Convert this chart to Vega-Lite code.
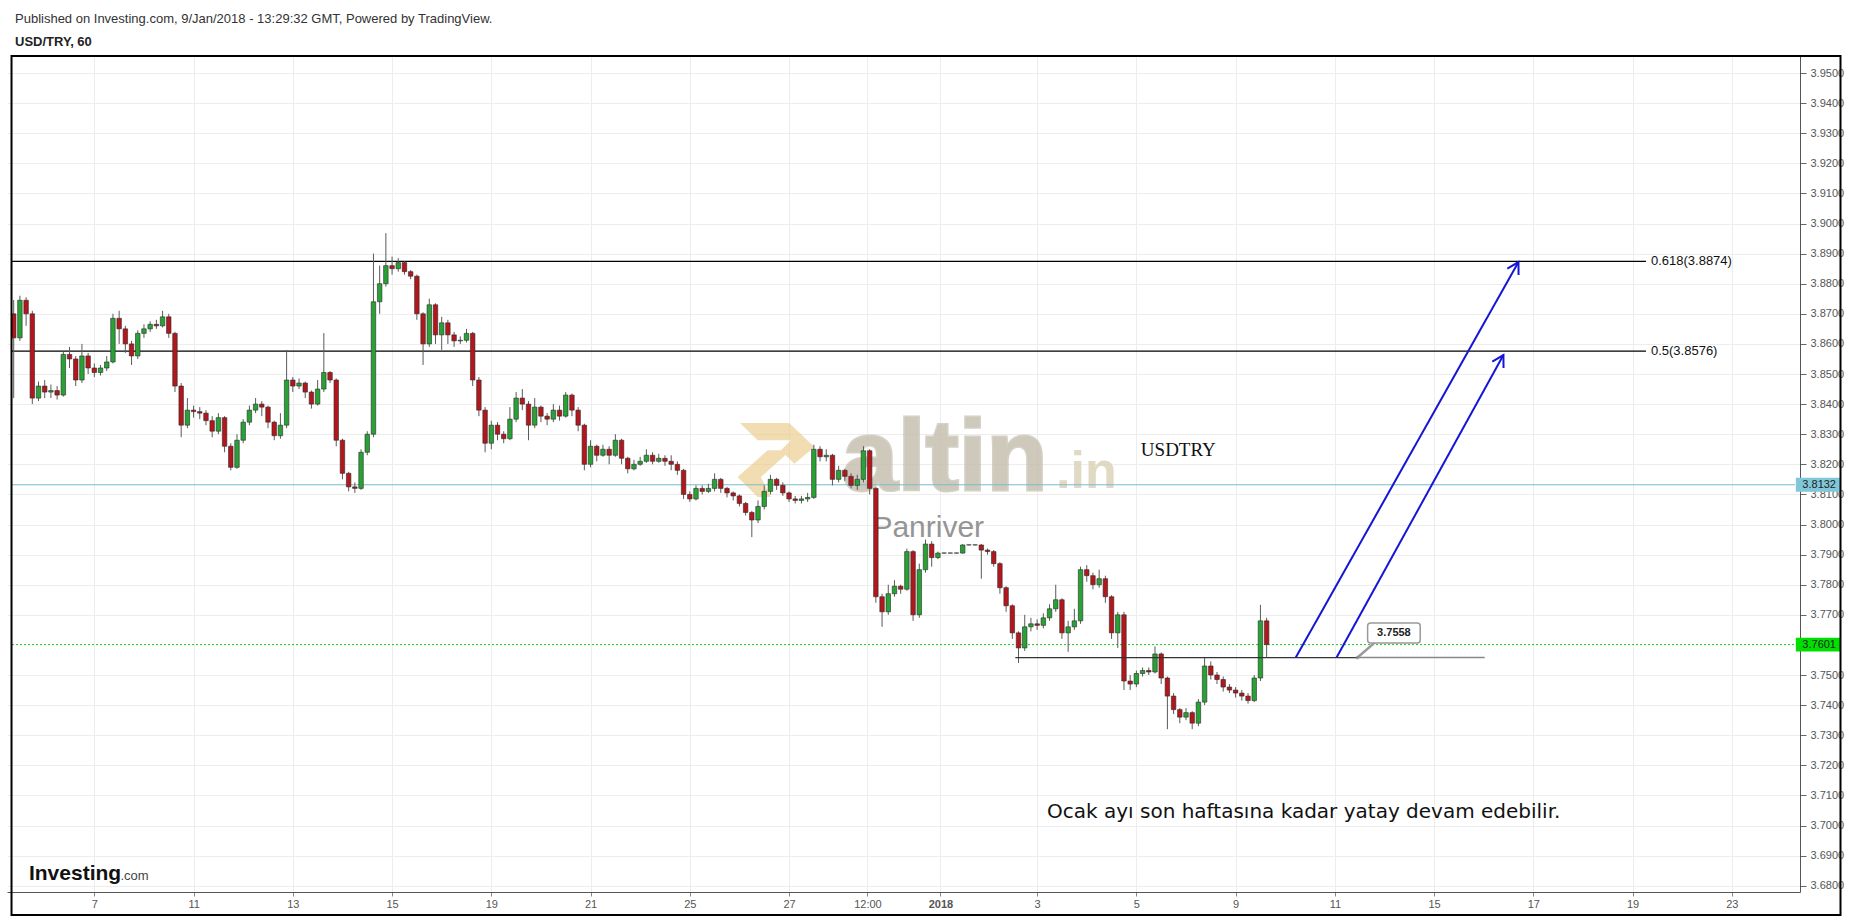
{
"$schema": "https://vega.github.io/schema/vega-lite/v6.json",
"width": 1793, "height": 836,
"autosize": {"type": "none"},
"padding": {"left": 7, "top": 56, "right": 53, "bottom": 26},
"background": "white",
"config": {"view": {"stroke": null}, "font": "Liberation Sans"},
"title": {"text": "Published on Investing.com, 9/Jan/2018 - 13:29:32 GMT, Powered by TradingView.", "subtitle": "USD/TRY, 60", "anchor": "start", "frame": "group", "dx": 8, "offset": 6, "font": "Liberation Sans", "fontSize": 13, "fontWeight": "normal", "color": "#333333", "subtitleFont": "Liberation Sans", "subtitleFontSize": 13, "subtitleFontWeight": "bold", "subtitleColor": "#222222", "subtitlePadding": 10},
"data": {"values": [
{"t":-1.625,"o":3.8700,"h":3.8746,"l":3.8420,"c":3.8620},
{"t":-1.5,"o":3.8620,"h":3.8760,"l":3.8610,"c":3.8745},
{"t":-1.375,"o":3.8745,"h":3.8755,"l":3.8660,"c":3.8700},
{"t":-1.25,"o":3.8700,"h":3.8710,"l":3.8400,"c":3.8420},
{"t":-1.125,"o":3.8420,"h":3.8475,"l":3.8410,"c":3.8460},
{"t":-1.0,"o":3.8460,"h":3.8480,"l":3.8420,"c":3.8440},
{"t":-0.875,"o":3.8440,"h":3.8465,"l":3.8420,"c":3.8445},
{"t":-0.75,"o":3.8445,"h":3.8460,"l":3.8415,"c":3.8430},
{"t":-0.625,"o":3.8430,"h":3.8575,"l":3.8425,"c":3.8565},
{"t":-0.5,"o":3.8565,"h":3.8590,"l":3.8520,"c":3.8550},
{"t":-0.375,"o":3.8550,"h":3.8560,"l":3.8460,"c":3.8480},
{"t":-0.25,"o":3.8480,"h":3.8600,"l":3.8470,"c":3.8560},
{"t":-0.125,"o":3.8560,"h":3.8570,"l":3.8500,"c":3.8520},
{"t":0.0,"o":3.8520,"h":3.8535,"l":3.8490,"c":3.8505},
{"t":0.125,"o":3.8505,"h":3.8530,"l":3.8495,"c":3.8520},
{"t":0.25,"o":3.8520,"h":3.8560,"l":3.8510,"c":3.8540},
{"t":0.375,"o":3.8540,"h":3.8700,"l":3.8535,"c":3.8685},
{"t":0.5,"o":3.8685,"h":3.8710,"l":3.8600,"c":3.8650},
{"t":0.625,"o":3.8650,"h":3.8660,"l":3.8570,"c":3.8600},
{"t":0.75,"o":3.8600,"h":3.8610,"l":3.8530,"c":3.8560},
{"t":0.875,"o":3.8560,"h":3.8645,"l":3.8550,"c":3.8635},
{"t":1.0,"o":3.8635,"h":3.8665,"l":3.8620,"c":3.8650},
{"t":1.125,"o":3.8650,"h":3.8675,"l":3.8640,"c":3.8665},
{"t":1.25,"o":3.8665,"h":3.8680,"l":3.8650,"c":3.8660},
{"t":1.375,"o":3.8660,"h":3.8710,"l":3.8655,"c":3.8690},
{"t":1.5,"o":3.8690,"h":3.8700,"l":3.8620,"c":3.8635},
{"t":1.625,"o":3.8635,"h":3.8640,"l":3.8440,"c":3.8460},
{"t":1.75,"o":3.8460,"h":3.8470,"l":3.8290,"c":3.8330},
{"t":1.875,"o":3.8330,"h":3.8420,"l":3.8320,"c":3.8380},
{"t":2.0,"o":3.8380,"h":3.8395,"l":3.8355,"c":3.8375},
{"t":2.125,"o":3.8375,"h":3.8390,"l":3.8350,"c":3.8370},
{"t":2.25,"o":3.8370,"h":3.8380,"l":3.8330,"c":3.8345},
{"t":2.375,"o":3.8345,"h":3.8360,"l":3.8290,"c":3.8310},
{"t":2.5,"o":3.8310,"h":3.8370,"l":3.8300,"c":3.8355},
{"t":2.625,"o":3.8355,"h":3.8360,"l":3.8240,"c":3.8260},
{"t":2.75,"o":3.8260,"h":3.8270,"l":3.8180,"c":3.8190},
{"t":2.875,"o":3.8190,"h":3.8300,"l":3.8185,"c":3.8280},
{"t":3.0,"o":3.8280,"h":3.8350,"l":3.8270,"c":3.8340},
{"t":3.125,"o":3.8340,"h":3.8395,"l":3.8330,"c":3.8380},
{"t":3.25,"o":3.8380,"h":3.8420,"l":3.8370,"c":3.8400},
{"t":3.375,"o":3.8400,"h":3.8410,"l":3.8360,"c":3.8390},
{"t":3.5,"o":3.8390,"h":3.8395,"l":3.8320,"c":3.8340},
{"t":3.625,"o":3.8340,"h":3.8345,"l":3.8280,"c":3.8295},
{"t":3.75,"o":3.8295,"h":3.8370,"l":3.8285,"c":3.8330},
{"t":3.875,"o":3.8330,"h":3.8580,"l":3.8320,"c":3.8480},
{"t":4.0,"o":3.8480,"h":3.8490,"l":3.8440,"c":3.8460},
{"t":4.125,"o":3.8460,"h":3.8485,"l":3.8450,"c":3.8470},
{"t":4.25,"o":3.8470,"h":3.8475,"l":3.8420,"c":3.8440},
{"t":4.375,"o":3.8440,"h":3.8445,"l":3.8385,"c":3.8400},
{"t":4.5,"o":3.8400,"h":3.8480,"l":3.8395,"c":3.8450},
{"t":4.625,"o":3.8450,"h":3.8636,"l":3.8440,"c":3.8505},
{"t":4.75,"o":3.8505,"h":3.8510,"l":3.8470,"c":3.8480},
{"t":4.875,"o":3.8480,"h":3.8485,"l":3.8260,"c":3.8280},
{"t":5.0,"o":3.8280,"h":3.8285,"l":3.8150,"c":3.8170},
{"t":5.125,"o":3.8170,"h":3.8175,"l":3.8110,"c":3.8125},
{"t":5.25,"o":3.8125,"h":3.8140,"l":3.8105,"c":3.8120},
{"t":5.375,"o":3.8120,"h":3.8250,"l":3.8115,"c":3.8240},
{"t":5.5,"o":3.8240,"h":3.8310,"l":3.8230,"c":3.8300},
{"t":5.625,"o":3.8300,"h":3.8900,"l":3.8290,"c":3.8740},
{"t":5.75,"o":3.8740,"h":3.8860,"l":3.8700,"c":3.8800},
{"t":5.875,"o":3.8800,"h":3.8968,"l":3.8790,"c":3.8860},
{"t":6.0,"o":3.8860,"h":3.8890,"l":3.8830,"c":3.8850},
{"t":6.125,"o":3.8850,"h":3.8885,"l":3.8840,"c":3.8870},
{"t":6.25,"o":3.8870,"h":3.8875,"l":3.8830,"c":3.8840},
{"t":6.375,"o":3.8840,"h":3.8845,"l":3.8815,"c":3.8825},
{"t":6.5,"o":3.8825,"h":3.8830,"l":3.8680,"c":3.8700},
{"t":6.625,"o":3.8700,"h":3.8705,"l":3.8530,"c":3.8600},
{"t":6.75,"o":3.8600,"h":3.8750,"l":3.8590,"c":3.8730},
{"t":6.875,"o":3.8730,"h":3.8735,"l":3.8600,"c":3.8630},
{"t":7.0,"o":3.8630,"h":3.8690,"l":3.8580,"c":3.8670},
{"t":7.125,"o":3.8670,"h":3.8680,"l":3.8600,"c":3.8630},
{"t":7.25,"o":3.8630,"h":3.8640,"l":3.8590,"c":3.8610},
{"t":7.375,"o":3.8610,"h":3.8625,"l":3.8600,"c":3.8612},
{"t":7.5,"o":3.8612,"h":3.8650,"l":3.8605,"c":3.8635},
{"t":7.625,"o":3.8635,"h":3.8640,"l":3.8460,"c":3.8480},
{"t":7.75,"o":3.8480,"h":3.8490,"l":3.8360,"c":3.8380},
{"t":7.875,"o":3.8380,"h":3.8390,"l":3.8240,"c":3.8270},
{"t":8.0,"o":3.8270,"h":3.8345,"l":3.8250,"c":3.8330},
{"t":8.125,"o":3.8330,"h":3.8340,"l":3.8280,"c":3.8300},
{"t":8.25,"o":3.8300,"h":3.8310,"l":3.8270,"c":3.8285},
{"t":8.375,"o":3.8285,"h":3.8390,"l":3.8280,"c":3.8350},
{"t":8.5,"o":3.8350,"h":3.8440,"l":3.8340,"c":3.8420},
{"t":8.625,"o":3.8420,"h":3.8450,"l":3.8380,"c":3.8400},
{"t":8.75,"o":3.8400,"h":3.8410,"l":3.8280,"c":3.8330},
{"t":8.875,"o":3.8330,"h":3.8420,"l":3.8320,"c":3.8390},
{"t":9.0,"o":3.8390,"h":3.8395,"l":3.8340,"c":3.8360},
{"t":9.125,"o":3.8360,"h":3.8370,"l":3.8330,"c":3.8350},
{"t":9.25,"o":3.8350,"h":3.8400,"l":3.8340,"c":3.8380},
{"t":9.375,"o":3.8380,"h":3.8395,"l":3.8345,"c":3.8360},
{"t":9.5,"o":3.8360,"h":3.8440,"l":3.8355,"c":3.8430},
{"t":9.625,"o":3.8430,"h":3.8435,"l":3.8360,"c":3.8380},
{"t":9.75,"o":3.8380,"h":3.8390,"l":3.8310,"c":3.8330},
{"t":9.875,"o":3.8330,"h":3.8335,"l":3.8180,"c":3.8200},
{"t":10.0,"o":3.8200,"h":3.8280,"l":3.8190,"c":3.8260},
{"t":10.125,"o":3.8260,"h":3.8265,"l":3.8210,"c":3.8230},
{"t":10.25,"o":3.8230,"h":3.8265,"l":3.8225,"c":3.8250},
{"t":10.375,"o":3.8250,"h":3.8260,"l":3.8200,"c":3.8230},
{"t":10.5,"o":3.8230,"h":3.8300,"l":3.8225,"c":3.8280},
{"t":10.625,"o":3.8280,"h":3.8285,"l":3.8200,"c":3.8220},
{"t":10.75,"o":3.8220,"h":3.8225,"l":3.8170,"c":3.8185},
{"t":10.875,"o":3.8185,"h":3.8215,"l":3.8180,"c":3.8200},
{"t":11.0,"o":3.8200,"h":3.8225,"l":3.8195,"c":3.8210},
{"t":11.125,"o":3.8210,"h":3.8250,"l":3.8205,"c":3.8230},
{"t":11.25,"o":3.8230,"h":3.8240,"l":3.8200,"c":3.8210},
{"t":11.375,"o":3.8210,"h":3.8235,"l":3.8205,"c":3.8220},
{"t":11.5,"o":3.8220,"h":3.8230,"l":3.8195,"c":3.8210},
{"t":11.625,"o":3.8210,"h":3.8230,"l":3.8180,"c":3.8200},
{"t":11.75,"o":3.8200,"h":3.8210,"l":3.8165,"c":3.8180},
{"t":11.875,"o":3.8180,"h":3.8185,"l":3.8085,"c":3.8100},
{"t":12.0,"o":3.8100,"h":3.8110,"l":3.8075,"c":3.8085},
{"t":12.125,"o":3.8085,"h":3.8130,"l":3.8080,"c":3.8120},
{"t":12.25,"o":3.8120,"h":3.8130,"l":3.8100,"c":3.8110},
{"t":12.375,"o":3.8110,"h":3.8135,"l":3.8105,"c":3.8120},
{"t":12.5,"o":3.8120,"h":3.8170,"l":3.8110,"c":3.8150},
{"t":12.625,"o":3.8150,"h":3.8155,"l":3.8105,"c":3.8120},
{"t":12.75,"o":3.8120,"h":3.8125,"l":3.8090,"c":3.8105},
{"t":12.875,"o":3.8105,"h":3.8110,"l":3.8080,"c":3.8095},
{"t":13.0,"o":3.8095,"h":3.8100,"l":3.8060,"c":3.8070},
{"t":13.125,"o":3.8070,"h":3.8075,"l":3.8030,"c":3.8040},
{"t":13.25,"o":3.8040,"h":3.8045,"l":3.7958,"c":3.8015},
{"t":13.375,"o":3.8015,"h":3.8080,"l":3.8005,"c":3.8060},
{"t":13.5,"o":3.8060,"h":3.8130,"l":3.8050,"c":3.8110},
{"t":13.625,"o":3.8110,"h":3.8165,"l":3.8100,"c":3.8150},
{"t":13.75,"o":3.8150,"h":3.8155,"l":3.8115,"c":3.8130},
{"t":13.875,"o":3.8130,"h":3.8140,"l":3.8095,"c":3.8105},
{"t":14.0,"o":3.8105,"h":3.8110,"l":3.8075,"c":3.8085},
{"t":14.125,"o":3.8085,"h":3.8095,"l":3.8070,"c":3.8080},
{"t":14.25,"o":3.8080,"h":3.8095,"l":3.8070,"c":3.8085},
{"t":14.375,"o":3.8085,"h":3.8105,"l":3.8075,"c":3.8090},
{"t":14.5,"o":3.8090,"h":3.8265,"l":3.8085,"c":3.8250},
{"t":14.625,"o":3.8250,"h":3.8260,"l":3.8210,"c":3.8225},
{"t":14.75,"o":3.8225,"h":3.8250,"l":3.8210,"c":3.8230},
{"t":14.875,"o":3.8230,"h":3.8235,"l":3.8130,"c":3.8150},
{"t":15.0,"o":3.8150,"h":3.8195,"l":3.8140,"c":3.8180},
{"t":15.125,"o":3.8180,"h":3.8185,"l":3.8145,"c":3.8160},
{"t":15.25,"o":3.8160,"h":3.8170,"l":3.8120,"c":3.8130},
{"t":15.375,"o":3.8130,"h":3.8165,"l":3.8115,"c":3.8150},
{"t":15.5,"o":3.8150,"h":3.8260,"l":3.8140,"c":3.8245},
{"t":15.625,"o":3.8245,"h":3.8250,"l":3.8100,"c":3.8120},
{"t":15.75,"o":3.8120,"h":3.8125,"l":3.7740,"c":3.7760},
{"t":15.875,"o":3.7760,"h":3.7770,"l":3.7660,"c":3.7710},
{"t":16.0,"o":3.7710,"h":3.7800,"l":3.7700,"c":3.7770},
{"t":16.125,"o":3.7770,"h":3.7815,"l":3.7760,"c":3.7795},
{"t":16.25,"o":3.7795,"h":3.7800,"l":3.7770,"c":3.7785},
{"t":16.375,"o":3.7785,"h":3.7920,"l":3.7780,"c":3.7910},
{"t":16.5,"o":3.7910,"h":3.7915,"l":3.7680,"c":3.7700},
{"t":16.625,"o":3.7700,"h":3.7870,"l":3.7690,"c":3.7850},
{"t":16.75,"o":3.7850,"h":3.7950,"l":3.7840,"c":3.7935},
{"t":16.875,"o":3.7935,"h":3.7945,"l":3.7860,"c":3.7890},
{"t":17.0,"o":3.7890,"h":3.7910,"l":3.7885,"c":3.7905},
{"t":17.125,"o":3.7905,"h":3.7906,"l":3.7904,"c":3.79055},
{"t":17.25,"o":3.7905,"h":3.7906,"l":3.7904,"c":3.79055},
{"t":17.375,"o":3.7905,"h":3.7906,"l":3.7904,"c":3.79055},
{"t":17.5,"o":3.7905,"h":3.7935,"l":3.7903,"c":3.7932},
{"t":17.625,"o":3.7932,"h":3.7933,"l":3.7931,"c":3.79325},
{"t":17.75,"o":3.7932,"h":3.7933,"l":3.7931,"c":3.79325},
{"t":17.875,"o":3.7932,"h":3.7935,"l":3.7820,"c":3.7915},
{"t":18.0,"o":3.7915,"h":3.7920,"l":3.7900,"c":3.7910},
{"t":18.125,"o":3.7910,"h":3.7915,"l":3.7860,"c":3.7870},
{"t":18.25,"o":3.7870,"h":3.7875,"l":3.7770,"c":3.7790},
{"t":18.375,"o":3.7790,"h":3.7795,"l":3.7710,"c":3.7730},
{"t":18.5,"o":3.7730,"h":3.7735,"l":3.7620,"c":3.7640},
{"t":18.625,"o":3.7640,"h":3.7645,"l":3.7540,"c":3.7590},
{"t":18.75,"o":3.7590,"h":3.7700,"l":3.7580,"c":3.7660},
{"t":18.875,"o":3.7660,"h":3.7690,"l":3.7645,"c":3.7670},
{"t":19.0,"o":3.7670,"h":3.7685,"l":3.7650,"c":3.7665},
{"t":19.125,"o":3.7665,"h":3.7705,"l":3.7655,"c":3.7690},
{"t":19.25,"o":3.7690,"h":3.7735,"l":3.7680,"c":3.7720},
{"t":19.375,"o":3.7720,"h":3.7800,"l":3.7710,"c":3.7750},
{"t":19.5,"o":3.7750,"h":3.7755,"l":3.7620,"c":3.7640},
{"t":19.625,"o":3.7640,"h":3.7680,"l":3.7577,"c":3.7660},
{"t":19.75,"o":3.7660,"h":3.7720,"l":3.7650,"c":3.7680},
{"t":19.875,"o":3.7680,"h":3.7860,"l":3.7670,"c":3.7850},
{"t":20.0,"o":3.7850,"h":3.7865,"l":3.7810,"c":3.7830},
{"t":20.125,"o":3.7830,"h":3.7840,"l":3.7785,"c":3.7800},
{"t":20.25,"o":3.7800,"h":3.7850,"l":3.7790,"c":3.7820},
{"t":20.375,"o":3.7820,"h":3.7830,"l":3.7740,"c":3.7760},
{"t":20.5,"o":3.7760,"h":3.7765,"l":3.7620,"c":3.7640},
{"t":20.625,"o":3.7640,"h":3.7710,"l":3.7590,"c":3.7700},
{"t":20.75,"o":3.7700,"h":3.7710,"l":3.7450,"c":3.7480},
{"t":20.875,"o":3.7480,"h":3.7500,"l":3.7450,"c":3.7470},
{"t":21.0,"o":3.7470,"h":3.7515,"l":3.7460,"c":3.7505},
{"t":21.125,"o":3.7505,"h":3.7525,"l":3.7495,"c":3.7515},
{"t":21.25,"o":3.7515,"h":3.7525,"l":3.7500,"c":3.7510},
{"t":21.375,"o":3.7510,"h":3.7595,"l":3.7505,"c":3.7570},
{"t":21.5,"o":3.7570,"h":3.7575,"l":3.7470,"c":3.7490},
{"t":21.625,"o":3.7490,"h":3.7495,"l":3.7320,"c":3.7430},
{"t":21.75,"o":3.7430,"h":3.7440,"l":3.7370,"c":3.7385},
{"t":21.875,"o":3.7385,"h":3.7390,"l":3.7340,"c":3.7360},
{"t":22.0,"o":3.7360,"h":3.7390,"l":3.7350,"c":3.7375},
{"t":22.125,"o":3.7375,"h":3.7380,"l":3.7320,"c":3.7340},
{"t":22.25,"o":3.7340,"h":3.7420,"l":3.7330,"c":3.7410},
{"t":22.375,"o":3.7410,"h":3.7560,"l":3.7400,"c":3.7530},
{"t":22.5,"o":3.7530,"h":3.7545,"l":3.7485,"c":3.7500},
{"t":22.625,"o":3.7500,"h":3.7510,"l":3.7470,"c":3.7485},
{"t":22.75,"o":3.7485,"h":3.7495,"l":3.7445,"c":3.7460},
{"t":22.875,"o":3.7460,"h":3.7470,"l":3.7440,"c":3.7450},
{"t":23.0,"o":3.7450,"h":3.7460,"l":3.7425,"c":3.7440},
{"t":23.125,"o":3.7440,"h":3.7450,"l":3.7415,"c":3.7430},
{"t":23.25,"o":3.7430,"h":3.7440,"l":3.7405,"c":3.7415},
{"t":23.375,"o":3.7415,"h":3.7500,"l":3.7410,"c":3.7490},
{"t":23.5,"o":3.7490,"h":3.7733,"l":3.7480,"c":3.7680},
{"t":23.625,"o":3.7680,"h":3.7690,"l":3.7560,"c":3.7601}
]},
"encoding": {
  "x": {"field": "t", "type": "quantitative", "title": null,
    "scale": {"domain": [-1.6593, 34.273], "nice": false, "zero": false},
    "axis": {"values": [0,2,4,6,8,10,12,14,15.58,17.05,19,21,23,25,27,29,31,33],
      "labelExpr": "['7','11','13','15','19','21','25','27','12:00','2018','3','5','9','11','15','17','19','23'][indexof([0,2,4,6,8,10,12,14,15.58,17.05,19,21,23,25,27,29,31,33], datum.value)]",
      "grid": true, "gridColor": "#ededed", "domainColor": "#555555", "tickColor": "#888888", "tickSize": 4, "labelPadding": 2,
      "labelFont": "Liberation Sans", "labelFontSize": 11, "labelColor": "#555555",
      "labelFontWeight": {"condition": {"test": "datum.value == 17.05", "value": "bold"}, "value": "normal"},
      "labelFlush": false, "labelOverlap": false}},
  "y": {"field": "p", "type": "quantitative", "title": null,
    "scale": {"domain": [3.67791, 3.95565], "nice": false, "zero": false},
    "axis": {"orient": "right", "values": [3.68,3.69,3.70,3.71,3.72,3.73,3.74,3.75,3.77,3.78,3.79,3.80,3.81,3.82,3.83,3.84,3.85,3.86,3.87,3.88,3.89,3.90,3.91,3.92,3.93,3.94,3.95],
      "format": ".4f", "grid": true, "gridColor": "#ededed", "domainColor": "#555555", "tickColor": "#666666", "tickSize": 6, "labelPadding": 4,
      "labelFont": "Liberation Sans", "labelFontSize": 11, "labelColor": "#555555", "labelOverlap": false, "labelFlush": false}}
},
"layer": [
  {"data": {"values": [{"t": 13.77, "p": 3.8211}]},
   "mark": {"type": "point", "filled": true, "color": "#e9c67e", "opacity": 0.6, "size": 6400,
     "shape": "M -0.94 -0.95 L 0.29 -0.95 L 0.92 -0.35 L 0.42 0.07 L 0.08 -0.27 L 0.33 -0.52 L -0.5 -0.52 Z M -0.25 -0.27 L 0.33 -0.27 L -0.42 0.4 L -0.17 0.9 L -0.5 0.9 L -1 0.4 Z"}},
  {"data": {"values": [{"t": 15.07, "p": 3.8115, "s": "altin"}]},
   "mark": {"type": "text", "align": "left", "baseline": "alphabetic", "font": "Liberation Sans", "fontSize": 100, "fontWeight": "bold", "color": "#c6c0b0", "opacity": 0.85, "stroke": "#c6c0b0", "strokeWidth": 3, "strokeOpacity": 0.85},
   "encoding": {"text": {"field": "s"}}},
  {"data": {"values": [{"t": 19.38, "p": 3.8121, "s": ".in"}]},
   "mark": {"type": "text", "align": "left", "baseline": "alphabetic", "font": "Liberation Sans", "fontSize": 52, "fontWeight": "bold", "color": "#ddd5bd", "opacity": 0.9},
   "encoding": {"text": {"field": "s"}}},
  {"data": {"values": [{"t": 15.68, "p": 3.7958, "s": "Panriver"}]},
   "mark": {"type": "text", "align": "left", "baseline": "alphabetic", "font": "Liberation Sans", "fontSize": 30, "color": "#8a8a8a", "opacity": 0.9},
   "encoding": {"text": {"field": "s"}}},
  {"data": {"values": [{"t": -1.6593, "t2": 34.273, "p": 3.8132}]},
   "mark": {"type": "rule", "color": "#79bccb", "strokeWidth": 1},
   "encoding": {"x2": {"field": "t2"}}},
  {"data": {"values": [{"t": -1.6593, "t2": 34.273, "p": 3.7601}]},
   "mark": {"type": "rule", "color": "#22c422", "strokeWidth": 1, "strokeDash": [2, 2]},
   "encoding": {"x2": {"field": "t2"}}},
  {"data": {"values": [{"t": -1.6593, "t2": 31.27, "p": 3.8874}, {"t": -1.6593, "t2": 31.27, "p": 3.8576}]},
   "mark": {"type": "rule", "color": "#000000", "strokeWidth": 1.2},
   "encoding": {"x2": {"field": "t2"}}},
  {"mark": {"type": "rule", "color": "#5a5a5a", "strokeWidth": 1},
   "encoding": {"y": {"field": "l", "type": "quantitative", "title": null}, "y2": {"field": "h"}}},
  {"mark": {"type": "bar", "width": 4.5, "stroke": "#2a2a2a", "strokeWidth": 0.6},
   "encoding": {"y": {"field": "o", "type": "quantitative", "title": null}, "y2": {"field": "c"},
     "color": {"condition": {"test": "datum.c >= datum.o", "value": "#29a235"}, "value": "#b3171c"}}},
  {"data": {"values": [{"t": 18.56, "t2": 25.456, "p": 3.7558}]},
   "mark": {"type": "rule", "color": "#333333", "strokeWidth": 1.2},
   "encoding": {"x2": {"field": "t2"}}},
  {"data": {"values": [{"t": 25.456, "t2": 28.02, "p": 3.7558}]},
   "mark": {"type": "rule", "color": "#888888", "strokeWidth": 1.5},
   "encoding": {"x2": {"field": "t2"}}},
  {"data": {"values": [
     {"a": "s1", "o": 0, "t": 24.212, "p": 3.7558}, {"a": "s1", "o": 1, "t": 28.70, "p": 3.8872},
     {"a": "h1", "o": 0, "t": 28.4755, "p": 3.8850}, {"a": "h1", "o": 1, "t": 28.70, "p": 3.8872}, {"a": "h1", "o": 2, "t": 28.702, "p": 3.8829},
     {"a": "s2", "o": 0, "t": 25.034, "p": 3.7558}, {"a": "s2", "o": 1, "t": 28.397, "p": 3.8563},
     {"a": "h2", "o": 0, "t": 28.1725, "p": 3.8541}, {"a": "h2", "o": 1, "t": 28.397, "p": 3.8563}, {"a": "h2", "o": 2, "t": 28.399, "p": 3.8520}]},
   "mark": {"type": "line", "color": "#1515d6", "strokeWidth": 2},
   "encoding": {"detail": {"field": "a"}, "order": {"field": "o"}}},
  {"data": {"values": [{"a": "c", "o": 0, "t": 25.456, "p": 3.7558}, {"a": "c", "o": 1, "t": 25.82, "p": 3.7610}]},
   "mark": {"type": "line", "color": "#999999", "strokeWidth": 2.5},
   "encoding": {"detail": {"field": "a"}, "order": {"field": "o"}}},
  {"data": {"values": [{"t": 25.456, "p": 3.7558}]},
   "mark": {"type": "point", "filled": true, "color": "#888888", "size": 14}},
  {"data": {"values": [{"t": 25.66, "t2": 26.72, "p": 3.7606, "p2": 3.7673}]},
   "mark": {"type": "rect", "fill": "#ffffff", "stroke": "#9a9a9a", "strokeWidth": 1.5, "cornerRadius": 3},
   "encoding": {"x2": {"field": "t2"}, "y2": {"field": "p2"}}},
  {"data": {"values": [{"t": 26.19, "p": 3.7640, "s": "3.7558"}]},
   "mark": {"type": "text", "align": "center", "baseline": "middle", "font": "Liberation Sans", "fontSize": 11, "fontWeight": "bold", "color": "#222222"},
   "encoding": {"text": {"field": "s"}}},
  {"data": {"values": [{"t": 21.09, "p": 3.8248, "s": "USDTRY"}]},
   "mark": {"type": "text", "align": "left", "baseline": "middle", "font": "Liberation Serif", "fontSize": 19, "color": "#111111"},
   "encoding": {"text": {"field": "s"}}},
  {"data": {"values": [{"t": 19.2, "p": 3.7045, "s": "Ocak ayı son haftasına kadar yatay devam edebilir."}]},
   "mark": {"type": "text", "align": "left", "baseline": "middle", "font": "DejaVu Sans", "fontSize": 20, "color": "#111111"},
   "encoding": {"text": {"field": "s"}}},
  {"data": {"values": [{"t": 31.37, "p": 3.8874, "s": "0.618(3.8874)"}, {"t": 31.37, "p": 3.8576, "s": "0.5(3.8576)"}]},
   "mark": {"type": "text", "align": "left", "baseline": "middle", "font": "Liberation Sans", "fontSize": 13, "color": "#111111"},
   "encoding": {"text": {"field": "s"}}},
  {"data": {"values": [{"t": -1.318, "p": 3.6820, "s": "Investing"}]},
   "mark": {"type": "text", "align": "left", "baseline": "alphabetic", "font": "Liberation Sans", "fontSize": 21, "fontWeight": "bold", "color": "#111111", "letterSpacing": -0.4},
   "encoding": {"text": {"field": "s"}}},
  {"data": {"values": [{"t": 0.526, "p": 3.6820, "s": ".com"}]},
   "mark": {"type": "text", "align": "left", "baseline": "alphabetic", "font": "Liberation Sans", "fontSize": 13, "color": "#444444"},
   "encoding": {"text": {"field": "s"}}},
  {"data": {"values": [{"t": 34.29, "t2": 35.19, "p": 3.8109, "p2": 3.8155}, {"t": 34.29, "t2": 35.19, "p": 3.7578, "p2": 3.7624}]},
   "mark": {"type": "rect"},
   "encoding": {"x2": {"field": "t2"}, "y2": {"field": "p2"},
     "color": {"condition": {"test": "datum.p > 3.8", "value": "#80c8d9"}, "value": "#00e000"}}},
  {"data": {"values": [{"t": 34.76, "p": 3.8132, "s": "3.8132"}, {"t": 34.76, "p": 3.7601, "s": "3.7601"}]},
   "mark": {"type": "text", "align": "center", "baseline": "middle", "font": "Liberation Sans", "fontSize": 11, "color": "#222222"},
   "encoding": {"text": {"field": "s"}}},
  {"data": {"values": [{"t": -1.669, "t2": 35.19, "p": 3.95565, "p2": 3.6703}]},
   "mark": {"type": "rect", "fill": null, "fillOpacity": 0, "stroke": "#000000", "strokeWidth": 2},
   "encoding": {"x2": {"field": "t2"}, "y2": {"field": "p2"}}}
]
}
